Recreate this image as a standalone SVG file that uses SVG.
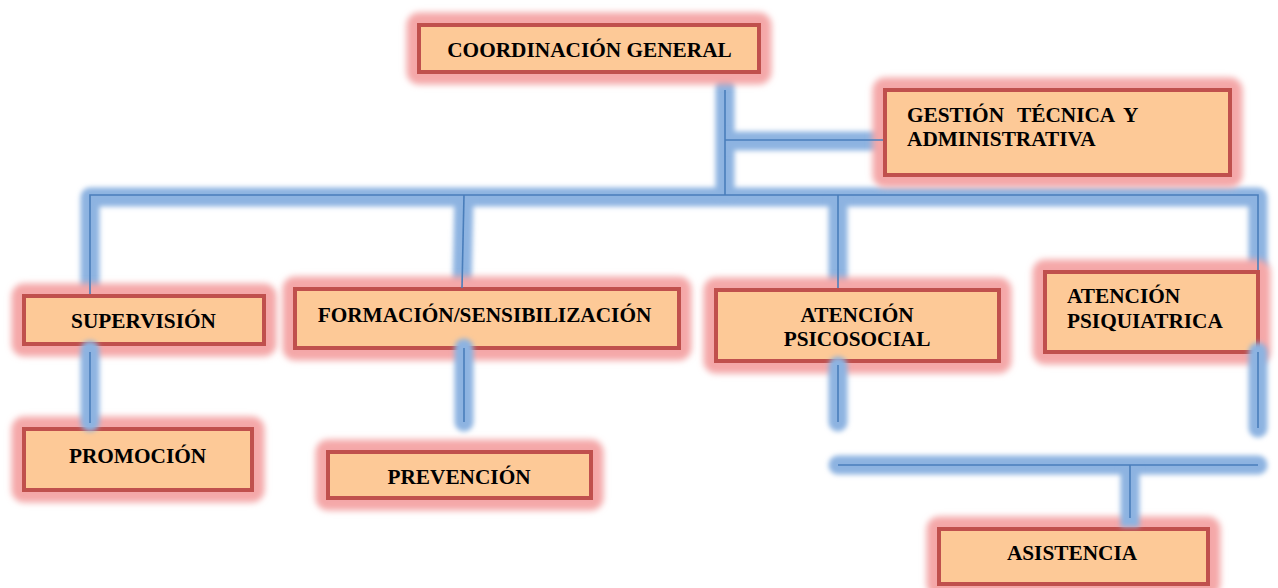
<svg xmlns="http://www.w3.org/2000/svg" width="1278" height="588" viewBox="0 0 1278 588">
<defs>
<filter id="blurA" filterUnits="userSpaceOnUse" x="0" y="0" width="1278" height="588"><feGaussianBlur stdDeviation="3.4"/></filter>
<filter id="blurB" filterUnits="userSpaceOnUse" x="0" y="0" width="1278" height="588"><feGaussianBlur stdDeviation="2.8"/></filter>
</defs>
<style>
.glow{fill:#f4a7a8;stroke:#f4a7a8;stroke-width:25;stroke-linejoin:round;filter:url(#blurA)}
.box{fill:#fdc997;stroke:#c0504d;stroke-width:4}
.t{font-family:"Liberation Serif","Times New Roman",serif;font-weight:bold;font-size:21.3px;fill:#000}
.c{text-anchor:middle}
.cg{fill:none;stroke:#8db3e1;stroke-width:19;stroke-linecap:round;stroke-linejoin:round;filter:url(#blurB)}
.cgb{fill:none;stroke:#8db3e1;stroke-width:19;stroke-linecap:butt;stroke-linejoin:round;filter:url(#blurB)}
.cl{fill:none;stroke:#4a7ebb;stroke-width:1.6}
</style>
<rect width="1278" height="588" fill="#ffffff"/>

<g id="connectors-under">
<path class="cgb" d="M90,292 V197 H1258 V268"/>
<path class="cgb" d="M464,197 L462,286"/>
<path class="cgb" d="M838,197 V287"/>
<path class="cg" d="M725,86 V190"/>
<path class="cgb" d="M725,141 H882"/>
</g>

<g id="n-coord"><rect class="glow" x="419" y="25" width="340" height="47"/><rect class="box" x="419" y="25" width="340" height="47"/><text class="t c" x="589.5" y="57">COORDINACIÓN GENERAL</text></g>
<g id="n-gestion"><rect class="glow" x="885" y="90" width="345" height="85"/><rect class="box" x="885" y="90" width="345" height="85"/><text class="t" y="122"><tspan x="907">GESTIÓN</tspan><tspan x="1017">TÉCNICA</tspan><tspan x="1123">Y</tspan></text><text class="t" x="907" y="146">ADMINISTRATIVA</text></g>
<g id="n-supervision"><rect class="glow" x="24" y="296" width="240" height="48"/><rect class="box" x="24" y="296" width="240" height="48"/><text class="t c" x="143.5" y="328">SUPERVISIÓN</text></g>
<g id="n-formacion"><rect class="glow" x="295" y="289" width="384" height="59"/><rect class="box" x="295" y="289" width="384" height="59"/><text class="t c" x="484.5" y="322">FORMACIÓN/SENSIBILIZACIÓN</text></g>
<g id="n-psicosocial"><rect class="glow" x="716" y="290" width="283" height="71"/><rect class="box" x="716" y="290" width="283" height="71"/><text class="t c" x="857" y="322">ATENCIÓN</text><text class="t c" x="857" y="346">PSICOSOCIAL</text></g>
<g id="n-psiquiatrica"><rect class="glow" x="1045" y="272" width="213" height="80"/><rect class="box" x="1045" y="272" width="213" height="80"/><text class="t" x="1067" y="303">ATENCIÓN</text><text class="t" x="1067" y="328">PSIQUIATRICA</text></g>
<g id="n-promocion"><rect class="glow" x="24" y="429" width="228" height="61"/><rect class="box" x="24" y="429" width="228" height="61"/><text class="t c" x="137.5" y="463">PROMOCIÓN</text></g>
<g id="n-prevencion"><rect class="glow" x="328" y="452" width="263" height="46"/><rect class="box" x="328" y="452" width="263" height="46"/><text class="t c" x="459" y="484">PREVENCIÓN</text></g>
<g id="n-asistencia"><rect class="glow" x="939" y="529" width="269" height="55"/><rect class="box" x="939" y="529" width="269" height="55"/><text class="t c" x="1072" y="560">ASISTENCIA</text></g>

<g id="connectors">
<path class="cg" d="M90,350 V422"/>
<path class="cg" d="M464,348 V422"/>
<path class="cg" d="M838,366 V422"/>
<path class="cg" d="M1258,352 V428"/>
<path class="cg" d="M838,465 H1258"/>
<path class="cgb" d="M1130,465 V527"/>
<path class="cl" d="M90,294 V195 H1258 V270"/>
<path class="cl" d="M464,195 L462,288"/>
<path class="cl" d="M838,195 V288"/>
<path class="cl" d="M725,90 V195"/>
<path class="cl" d="M725,140 H883"/>
<path class="cl" d="M90,352 V423"/>
<path class="cl" d="M464,348 V422"/>
<path class="cl" d="M838,365 V422"/>
<path class="cl" d="M1258,352 V428"/>
<path class="cl" d="M838,465 H1258"/>
<path class="cl" d="M1130,465 V518"/>
</g>
</svg>
